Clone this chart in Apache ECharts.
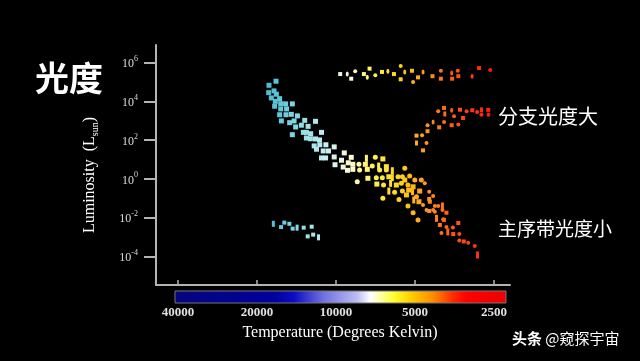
<!DOCTYPE html>
<html><head><meta charset="utf-8">
<script src="https://cdn.jsdelivr.net/npm/echarts@6/dist/echarts.min.js"></script>
<style>html,body{margin:0;padding:0;background:#000;}#c{width:640px;height:361px;}</style>
</head><body><div id="c"></div>
<script>
// ---- data (temperature in K, luminosity as log10(L/Lsun)) ----
const tempTicks = [40000, 20000, 10000, 5000, 2500];
const lumTicks = [-4, -2, 0, 2, 4, 6];

const mainSeqTemp = [
  16930,18010,18060,17230,16880,17640,16400,17030,16250,15560,
  14670,17135,16250,15430,16400,15510,14800,14030,16150,15020,
  14450,13160,13550,14250,12775,11970,13320,12970,12490,11360,
  14670,12970,12520,11970,11560,12110,11530,10930,10160,11190,
  10680,11870,9300,11360,10960,10160,9530,10090,8980,9390,
  9040,8750,
  7660,7085,6630,8630,8180,7730,7275,6880,6430,8630,
  8130,7600,6820,6430,6100,5470,8300,7560,7025,6660,
  6290,6100,5805,5470,5240,5010,6990,6590,6195,5890,
  5635,5320,5085,4730,4590,6290,5980,5585,5285,6630,
  5755,5390,5110,4935,4800,4415,4265,4415,5320,5055,
  4830,4660,4520,4390,4200,4080,3930,5085,4870,4415,
  4200,3930,3795,4140,3905,4020,3795,3585,3420,3965,
  3750,3575,3390,3390,3260,3135,2960,2890,5585,4265,3880
];
const mainSeqLum = [
  5.04,4.83,4.45,4.54,4.37,4.18,4.14,4.00,3.88,3.87,
  3.87,3.75,3.61,3.61,3.31,3.31,3.33,3.25,2.99,2.90,
  2.99,3.02,2.77,2.68,2.71,2.97,2.40,2.40,2.33,2.40,
  2.28,2.11,2.07,2.06,2.01,1.70,1.76,1.76,1.65,1.44,
  1.44,1.53,1.34,1.08,1.08,1.13,0.96,0.73,0.83,0.61,
  0.44,1.11,
  1.06,1.11,1.03,0.75,0.75,0.75,0.66,0.66,0.63,0.49,
  0.46,0.49,0.46,0.46,0.42,0.55,-0.15,0.03,0.06,0.06,
  0.11,0.06,0.11,-0.06,0.15,-0.06,-0.27,-0.32,-0.23,-0.32,
  -0.23,-0.32,-0.41,-0.06,-0.23,-0.63,-0.69,-0.63,-0.58,-1.00,
  -1.06,-0.83,-0.66,-0.92,-0.63,-0.66,-0.89,-1.04,-1.40,-1.09,
  -1.18,-1.35,-1.61,-1.18,-1.40,-1.40,-1.40,-1.75,-2.12,-1.66,
  -1.70,-1.61,-1.75,-2.04,-2.09,-2.38,-2.49,-2.51,-2.28,-2.80,
  -2.74,-2.85,-2.85,-3.18,-3.23,-3.30,-3.47,-3.93,0.11,-1.61,-2.12
];
const giantTemp = [4935,4700,4935,4520,4660,4480,4480,4265,4045,3875,3625,3420,3850,3550,3280,4080,3875,3625,3370,3180,3025,2900,2790,2790,2630,2625];
const giantLum  = [2.23,2.25,1.85,1.85,1.47,2.77,2.46,2.94,2.66,2.94,2.77,2.80,3.35,3.23,3.14,3.49,3.66,3.54,3.57,3.49,3.54,3.45,3.56,3.31,3.56,3.31];
const superTemp = [9640,9060,8750,8450,7830,7600,7450,7085,6680,6345,6015,5670,5670,5470,5135,5085,4870,4660,4290,3985,3985,3625,3610,3435,3420,3030,2850,2585];
const superLum  = [5.41,5.41,5.17,5.55,5.41,5.24,5.69,5.35,5.52,5.55,5.41,5.83,5.14,5.52,5.58,5.00,5.24,5.52,5.30,5.58,5.17,5.47,5.17,5.58,5.30,5.30,5.72,5.62];
const dwarfTemp = [17330,16200,15740,15060,14630,14070,13280,12380,12820,12220,11660];
const dwarfLum  = [-2.32,-2.49,-2.26,-2.32,-2.57,-2.52,-2.52,-2.47,-2.97,-2.88,-3.02];

// ---- chart ----
const lg = Math.log10;
const pts = (T, L) => T.map((t, i) => [lg(t), L[i]]);
const serif = 'Liberation Serif';
const cjk = '"Noto Sans CJK SC", "Noto Sans"';

function msSymbol(v, p) {
  const t = Math.pow(10, v[0]);
  if (t > 8500) return 'rect';
  if (p.dataIndex % 7 === 3) return 'rect';
  return p.dataIndex % 3 === 0 ? 'rect' : 'circle';
}
function msSize(v, p) {
  const t = Math.pow(10, v[0]);
  if (t > 8500) return 5;
  if (p.dataIndex % 7 === 3) return [3, 7];
  return t < 4700 ? 4 : 5;
}

const chart = echarts.init(document.getElementById('c'), null, {renderer: 'canvas'});
chart.setOption({
  backgroundColor: '#000',
  animation: false,
  grid: {left: 156, top: 45, width: 354, height: 240, containLabel: false},
  xAxis: {
    type: 'value', inverse: true, min: 3.337, max: 4.686,
    splitLine: {show: false},
    axisLine: {show: true, onZero: false, lineStyle: {color: '#b4b4b4', width: 2}},
    axisTick: {show: true, inside: true, length: 5, customValues: tempTicks.map(lg), lineStyle: {color: '#b4b4b4', width: 1.5}},
    axisLabel: {customValues: tempTicks.map(lg), formatter: v => String(Math.round(Math.pow(10, v))),
      color: '#e0e0e0', fontFamily: serif, fontWeight: 'bold', fontSize: 13, margin: 21},
    name: 'Temperature (Degrees Kelvin)', nameLocation: 'middle', nameGap: 40,
    nameTextStyle: {color: '#fff', fontFamily: serif, fontSize: 16, padding: [0, 0, 0, 14]}
  },
  yAxis: {
    type: 'value', min: -5.48, max: 6.91,
    splitLine: {show: false},
    axisLine: {show: true, onZero: false, lineStyle: {color: '#b4b4b4', width: 2}},
    axisTick: {show: true, length: 12, customValues: lumTicks, lineStyle: {color: '#b4b4b4', width: 2}},
    axisLabel: {customValues: lumTicks, formatter: v => '{b|10}{s|' + v + '}', margin: 18,
      rich: {
        b: {fontFamily: serif, fontSize: 12, color: '#dcdcdc', verticalAlign: 'bottom', lineHeight: 15},
        s: {fontFamily: serif, fontSize: 8, color: '#dcdcdc', verticalAlign: 'top', lineHeight: 15}
      }},
    name: '{n|Luminosity  (}{l|L}{sub|sun}{n|)}', nameLocation: 'middle', nameGap: 56, nameRotate: 90,
    nameTextStyle: {padding: [0, 20, 0, 0], rich: {
      n: {fontFamily: serif, fontSize: 16, color: '#fff', verticalAlign: 'middle', lineHeight: 20},
      l: {fontFamily: serif, fontSize: 16, color: '#fff', verticalAlign: 'middle', lineHeight: 20},
      sub: {fontFamily: serif, fontSize: 10, color: '#fff', verticalAlign: 'bottom', lineHeight: 20}
    }}
  },
  visualMap: {
    show: false, type: 'continuous', dimension: 0, min: 3.38, max: 4.32,
    seriesIndex: [0, 1, 2, 3],
    inRange: {color: ['#ff0d00', '#ff3412', '#ff601c', '#ff9a1e', '#ffd21a', '#fff04a', '#fffbd0', '#c8eef2', '#90dbe6', '#5cc4d8', '#35aac4']}
  },
  series: [
    {name: 'main', type: 'scatter', data: pts(mainSeqTemp, mainSeqLum), symbol: msSymbol, symbolSize: msSize, itemStyle: {opacity: 1}},
    {name: 'giant', type: 'scatter', data: pts(giantTemp, giantLum), itemStyle: {opacity: 1},
      symbol: (v, p) => p.dataIndex % 2 ? 'circle' : 'rect', symbolSize: (v, p) => p.dataIndex % 5 === 2 ? [3, 5] : 4},
    {name: 'super', type: 'scatter', data: pts(superTemp, superLum), itemStyle: {opacity: 1},
      symbol: (v, p) => p.dataIndex % 2 ? 'circle' : 'rect', symbolSize: (v, p) => p.dataIndex % 4 === 1 ? [3, 5] : 4},
    {name: 'dwarf', type: 'scatter', data: pts(dwarfTemp, dwarfLum), itemStyle: {opacity: 1},
      symbol: 'rect', symbolSize: (v, p) => p.dataIndex % 5 === 0 ? [3, 6] : 4}
  ],
  graphic: [
    {type: 'rect', silent: true, shape: {x: 175, y: 291, width: 331, height: 12},
      style: {stroke: '#777', lineWidth: 1, fill: {type: 'linear', x: 0, y: 0, x2: 1, y2: 0, colorStops: [
        {offset: 0, color: '#05057e'}, {offset: 0.30, color: '#00009c'}, {offset: 0.36, color: '#0c0cc4'},
        {offset: 0.45, color: '#7272e0'}, {offset: 0.55, color: '#bcbcf2'}, {offset: 0.59, color: '#ffffff'},
        {offset: 0.66, color: '#ffff30'}, {offset: 0.71, color: '#ffd200'}, {offset: 0.78, color: '#ff8a00'},
        {offset: 0.84, color: '#ff2a00'}, {offset: 0.88, color: '#ff0000'}, {offset: 1, color: '#ee0000'}]}}},
    {type: 'text', left: 35, top: 61, style: {text: '光度', fill: '#fff', font: 'bold 34px ' + cjk}},
    {type: 'text', left: 498, top: 106, style: {text: '分支光度大', fill: '#fff', font: '20px ' + cjk}},
    {type: 'text', left: 498, top: 219, style: {text: '主序带光度小', fill: '#fff', font: '19px ' + cjk}},
    {type: 'text', left: 512, top: 331, style: {text: '{a|头条} {b|@窥探宇宙}', rich: {
      a: {fill: '#fff', fontFamily: cjk, fontSize: 15, fontWeight: 'bold'},
      b: {fill: '#fff', fontFamily: cjk, fontSize: 15}}}}
  ]
});
</script>
</body></html>
